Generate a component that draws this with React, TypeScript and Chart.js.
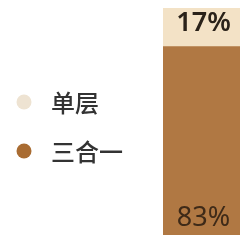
import React, { useEffect, useRef } from "react";
import { Chart, registerables } from "chart.js";

Chart.register(...registerables);

const categories = [""];
const seriesNames = ["单层", "三合一"];
const singleLayer = [17];
const threeInOne = [83];
const percentLabels = ["17%", "83%"];
const seriesColors = ["#F3E2C6", "#B07843"];
const legendDotColors = ["#EEE3D2", "#A96C32"];

const overlayPlugin = {
  id: "overlay",
  afterDatasetsDraw(chart: any) {
    const ctx = chart.ctx;
    ctx.save();
    const legendY = [102, 151];
    seriesNames.forEach((name, i) => {
      ctx.beginPath();
      ctx.fillStyle = legendDotColors[i];
      ctx.arc(24, legendY[i], 7.5, 0, Math.PI * 2);
      ctx.fill();
      ctx.fillStyle = "#333333";
      ctx.font = "500 24px 'Noto Sans CJK SC'";
      ctx.textBaseline = "middle";
      ctx.textAlign = "left";
      ctx.fillText(name, 51, legendY[i] + 1);
    });
    const topMeta = chart.getDatasetMeta(1).data[0];
    const botMeta = chart.getDatasetMeta(0).data[0];
    ctx.textAlign = "center";
    ctx.textBaseline = "middle";
    ctx.font = "600 27px 'Noto Sans'";
    ctx.fillStyle = "#2a2219";
    ctx.fillText(percentLabels[0], topMeta.x + 2, topMeta.y + 15);
    ctx.font = "27px 'Noto Sans'";
    ctx.fillStyle = "#3e2a18";
    ctx.fillText(percentLabels[1], botMeta.x + 2, botMeta.base - 17);
    ctx.restore();
  },
};

export default function App() {
  const ref = useRef<HTMLCanvasElement>(null);
  useEffect(() => {
    document.body.style.margin = "0";
    const chart = new Chart(ref.current!, {
      type: "bar",
      data: {
        labels: categories,
        datasets: [
          { label: seriesNames[1], data: threeInOne, backgroundColor: seriesColors[1] },
          { label: seriesNames[0], data: singleLayer, backgroundColor: seriesColors[0] },
        ],
      },
      options: {
        animation: false,
        responsive: false,
        layout: { padding: { left: 163, right: 0, top: 8, bottom: 6 } },
        plugins: { legend: { display: false }, tooltip: { enabled: false } },
        datasets: { bar: { barPercentage: 1, categoryPercentage: 1 } },
        scales: {
          x: { stacked: true, display: false },
          y: { stacked: true, display: false, min: 0, max: 100 },
        },
      },
      plugins: [overlayPlugin],
    });
    return () => chart.destroy();
  }, []);
  return <canvas ref={ref} width={240} height={241} style={{ display: "block" }} />;
}
